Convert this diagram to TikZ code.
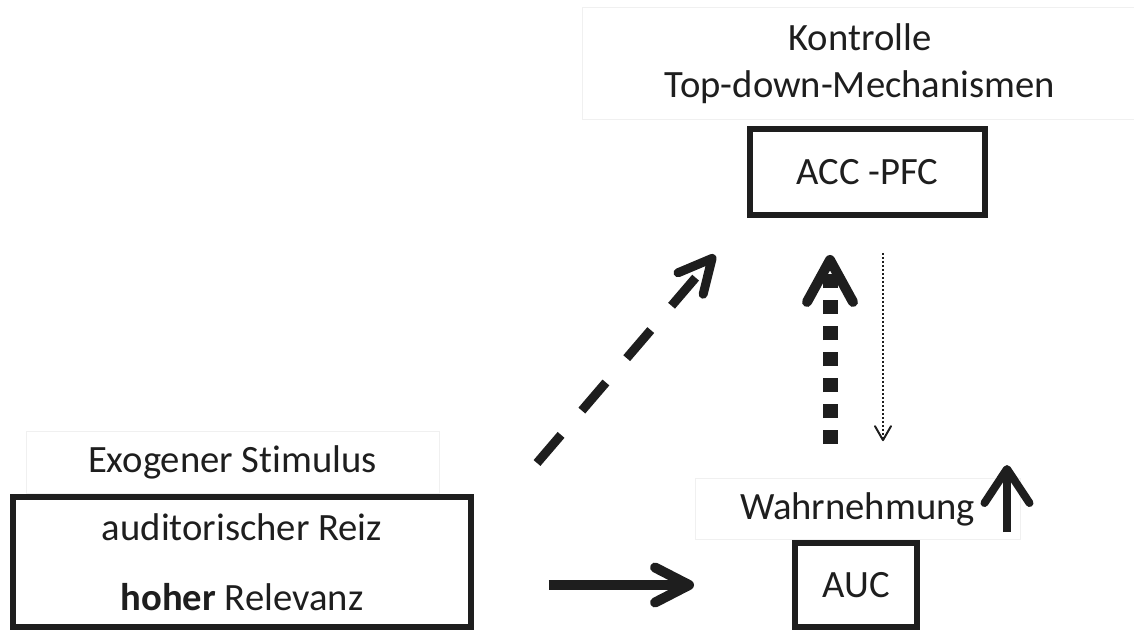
\documentclass[tikz,border=0pt]{standalone}
\usepackage{fontspec}
\setmainfont{Carlito}[Ligatures={TeX,NoCommon}]
\usetikzlibrary{arrows.meta,positioning}
\definecolor{ink}{HTML}{1E1E1E}
\definecolor{faint}{HTML}{F0F0F0}

\begin{document}
\begin{tikzpicture}[x=0.02cm,y=-0.02cm,
  box/.style={draw=ink,line width=0.12cm,align=center,inner sep=0pt,text=ink,font=\fontsize{22}{39.7}\selectfont},
  tag/.style={draw=faint,line width=0.5pt,align=center,inner sep=0pt,text=ink,font=\fontsize{22}{26.6}\selectfont}]
\useasboundingbox (0,0) rectangle (1134,632);
\node[box,minimum width=4.70cm,minimum height=1.72cm] (acc) at (867.5,172) {ACC -PFC};
\node[tag,minimum width=11.12cm,minimum height=2.24cm,above=0.12cm of acc,xshift=-0.15cm] (kontrolle) {Kontrolle\\Top-down-Mechanismen};
\node[box,minimum width=9.16cm,minimum height=2.6cm] (stim) at (242,562) {auditorischer Reiz\\\textbf{hoher} Relevanz};
\node[tag,minimum width=8.26cm,minimum height=1.24cm,above=0pt of stim,xshift=-0.19cm] (exo) {Exogener Stimulus};
\node[box,minimum width=2.44cm,minimum height=1.68cm] (auc) at (856,585) {AUC};
\node[tag,minimum width=6.5cm,minimum height=1.22cm,above=0pt of auc,xshift=0.03cm] (wahr) {Wahrnehmung};
\coordinate (dashfrom) at (537,463);
\coordinate (dashto) at (715,255);
\coordinate (tailfrom) at (1007,532);
\coordinate (tailto) at (1007,465);
\draw[ink,line width=0.2cm,-{Straight Barb[round,length=0.68cm,width=0.7cm]},shorten <=1.5cm,shorten >=1.96cm] (stim.east |- auc) -- (auc);
\draw[ink,line width=0.18cm,dash pattern=on 0.74cm off 0.64cm,-{Straight Barb[round,length=0.66cm,width=0.66cm]}] (dashfrom) -- (dashto);
\draw[ink,line width=0.3cm,dash pattern=on 0.28cm off 0.24cm,-{Straight Barb[round,line width=0.2cm,length=0.84cm,width=0.92cm]},shorten <=0.68cm,shorten >=0.74cm] ([xshift=-0.55cm]wahr.north) -- ([xshift=-0.55cm]wahr.north |- acc.south);
\draw[ink,line width=0.04cm,dash pattern=on 0.04cm off 0.04cm,-{Straight Barb[round,length=0.28cm,width=0.32cm]},shorten <=0.7cm,shorten >=0.74cm] ([xshift=0.51cm]wahr.north |- acc.south) -- ([xshift=0.51cm]wahr.north);
\draw[ink,line width=0.16cm,-{Straight Barb[round,length=0.68cm,width=0.9cm]}] (tailfrom) -- (tailto);
\end{tikzpicture}
\end{document}
